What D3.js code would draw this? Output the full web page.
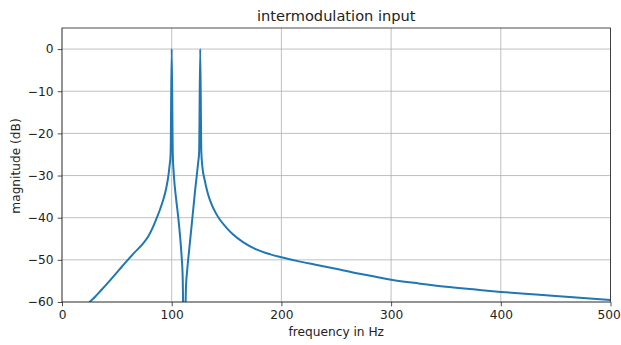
<!DOCTYPE html>
<html>
<head>
<meta charset="utf-8">
<script src="https://cdn.jsdelivr.net/npm/d3@7"></script>
<style>
  body { margin: 0; background: #fff; }
  svg { font-family: "DejaVu Sans", sans-serif; }
  .grid line { stroke: #b0b0b0; stroke-width: 0.8; }
</style>
</head>
<body>
<svg id="chart"></svg>
<script>
const svgWidth = 621,
    svgHeight = 345,
    margin = {top: 28, right: 10.5, bottom: 43, left: 62},
    width = svgWidth - margin.left - margin.right,
    height = svgHeight - margin.top - margin.bottom;

// spectrum (frequency in Hz, magnitude in dB)
const freqs = [20, 25, 30, 35, 44, 52, 59, 66, 74, 79, 83, 86, 89, 92, 95, 97, 98, 99, 100,
    101, 102, 104, 106, 108, 109, 110, 111, 112, 113, 114, 115, 118, 121, 124, 125, 126,
    127, 128, 130, 133, 136, 140, 144, 150, 156, 165, 177, 190, 200, 215, 230, 253, 275,
    300, 325, 350, 375, 400, 425, 450, 475, 500];
const magnitudes = [-62, -60.1, -58.8, -57.4, -54.8, -52.4, -50.3, -48.3, -46.1, -44.3, -42.2, -40.3, -38.3, -36, -33, -30, -27.8, -25, 0,
    -25, -30, -35.5, -40, -45.5, -49, -54, -68, -68, -56.5, -52.8, -50, -42.3, -34.4, -27.2, -24.5, 0,
    -24.3, -28, -31, -34.3, -36.6, -38.8, -40.5, -42.4, -44, -45.8, -47.5, -48.7, -49.4, -50.3, -51.1, -52.3, -53.5,
    -54.7, -55.6, -56.4, -57, -57.6, -58.1, -58.6, -59.05, -59.5];

const xTicks = [0, 100, 200, 300, 400, 500];
const yTicks = [0, -10, -20, -30, -40, -50, -60];

const data = freqs.map((f, i) => ({f: f, db: magnitudes[i]}));

const chart = d3.select("#chart")
    .attr("width", svgWidth)
    .attr("height", svgHeight);

const inner = chart.append("g")
    .attr("transform", `translate(${margin.left},${margin.top})`);

const xScale = d3.scaleLinear().domain([0, 500]).range([0, width]);
const yScale = d3.scaleLinear().domain([-60, 5]).range([height, 0]);

// grid
inner.append("g").attr("class", "grid")
    .selectAll("line").data(xTicks).enter().append("line")
    .attr("x1", d => xScale(d)).attr("x2", d => xScale(d))
    .attr("y1", 0).attr("y2", height);
inner.append("g").attr("class", "grid")
    .selectAll("line").data(yTicks).enter().append("line")
    .attr("x1", 0).attr("x2", width)
    .attr("y1", d => yScale(d)).attr("y2", d => yScale(d));

// line, clipped to the axes box
inner.append("clipPath").attr("id", "clip")
    .append("rect").attr("width", width).attr("height", height);

const valueline = d3.line()
    .x(d => xScale(d.f))
    .y(d => yScale(d.db))
    .curve(d3.curveMonotoneX);

inner.append("path")
    .datum(data)
    .attr("clip-path", "url(#clip)")
    .attr("fill", "none")
    .attr("stroke", "#1f77b4")
    .attr("stroke-width", 2)
    .attr("stroke-linejoin", "round")
    .attr("d", valueline);

// axes
const xAxis = d3.axisBottom(xScale).tickValues(xTicks).tickSize(4.3).tickPadding(4.3).tickFormat(d3.format("d"));
const yAxis = d3.axisLeft(yScale).tickValues(yTicks).tickSize(4.3).tickPadding(4.3).tickFormat(d3.format("d"));

inner.append("g")
    .attr("transform", `translate(0,${height})`)
    .call(xAxis)
    .call(g => g.select(".domain").remove());
inner.append("g")
    .call(yAxis)
    .call(g => g.select(".domain").remove());

inner.selectAll(".tick text")
    .attr("font-family", "DejaVu Sans, sans-serif")
    .attr("font-size", 12.2)
    .attr("fill", "#222");
inner.selectAll(".tick line").attr("stroke", "#222").attr("stroke-width", 0.8);

// keep the last x label inside the window
inner.selectAll(".tick text").filter(d => d === 500).attr("dx", -2);

// frame
inner.append("rect")
    .attr("width", width).attr("height", height)
    .attr("fill", "none")
    .attr("stroke", "#222")
    .attr("stroke-width", 0.8);

// labels
chart.append("text")
    .attr("x", margin.left + width / 2)
    .attr("y", 21)
    .attr("text-anchor", "middle")
    .attr("font-size", 14.6)
    .attr("fill", "#222")
    .text("intermodulation input");

chart.append("text")
    .attr("x", margin.left + width / 2)
    .attr("y", 336)
    .attr("text-anchor", "middle")
    .attr("font-size", 12.2)
    .attr("fill", "#222")
    .text("frequency in Hz");

chart.append("text")
    .attr("transform", `translate(19.5,${margin.top + height / 2 + 1}) rotate(-90)`)
    .attr("text-anchor", "middle")
    .attr("font-size", 12.2)
    .attr("fill", "#222")
    .text("magnitude (dB)");
</script>
</body>
</html>
